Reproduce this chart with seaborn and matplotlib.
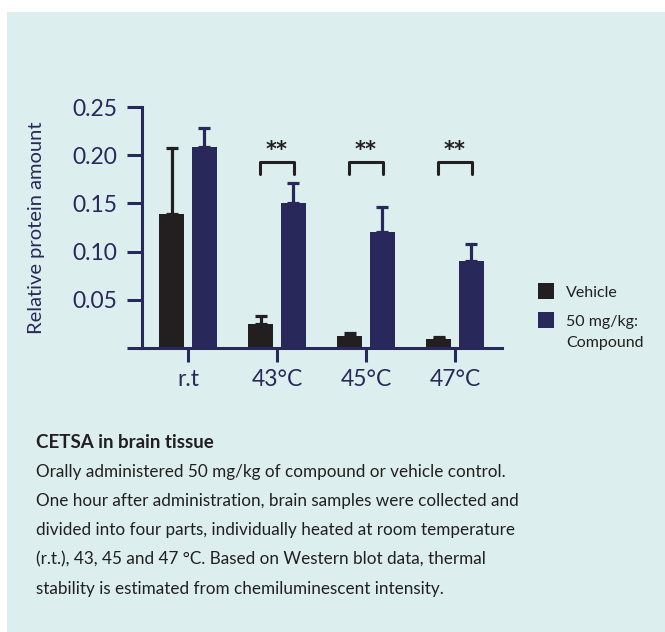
import numpy as np
import pandas as pd
import seaborn as sns
import matplotlib.pyplot as plt
from matplotlib.patches import Rectangle

# values
temps = ['r.t', '43°C', '45°C', '47°C']
groups = ['Vehicle', '50 mg/kg:\nCompound']
vehicle = [0.139, 0.025, 0.012, 0.009]
compound = [0.208, 0.150, 0.120, 0.090]
vehicle_err = [0.068, 0.008, 0.004, 0.0025]
compound_err = [0.020, 0.021, 0.026, 0.018]
sig_temps = ['43°C', '45°C', '47°C']
yticks = [0, 0.05, 0.10, 0.15, 0.20, 0.25]
ytick_labels = ['', '0.05', '0.10', '0.15', '0.20', '0.25']

caption_title = 'CETSA in brain tissue'
caption_lines = [
    'Orally administered 50 mg/kg of compound or vehicle control.',
    'One hour after administration, brain samples were collected and',
    'divided into four parts, individually heated at room temperature',
    '(r.t.), 43, 45 and 47 °C. Based on Western blot data, thermal',
    'stability is estimated from chemiluminescent intensity.',
]

dark = '#231f20'
navy = '#29285a'
panel = '#dcefee'

df = pd.DataFrame({
    'temp': temps * 2,
    'group': [groups[0]] * len(temps) + [groups[1]] * len(temps),
    'value': vehicle + compound,
    'err': vehicle_err + compound_err,
})

sns.set_theme(style='ticks')
plt.rcParams['font.family'] = ['Lato', 'DejaVu Sans']

W, H = 665, 632
fig = plt.figure(figsize=(W / 100, H / 100), dpi=100)
fig.patch.set_facecolor('white')
fig.patches.append(Rectangle((7 / W, 0), 1, 1 - 12 / H, transform=fig.transFigure,
                             facecolor=panel, edgecolor='none', zorder=-5))

ax = fig.add_axes([142 / W, 1 - 348 / H, 360 / W, 241 / H])
ax.set_facecolor('none')
sns.barplot(data=df, x='temp', y='value', hue='group', hue_order=groups,
            palette=[dark, navy], saturation=1, width=0.74, gap=0.24,
            errorbar=None, legend=False, linewidth=0, ax=ax)

# one-sided error bars on top of each bar
for bar, e in zip(ax.patches, df['err']):
    x = bar.get_x() + bar.get_width() / 2
    h = bar.get_height()
    ax.errorbar(x, h, yerr=[[0], [e]], color=bar.get_facecolor(), capsize=4.3,
                elinewidth=2.3, capthick=2.3, zorder=1)

# significance brackets
for t in sig_temps:
    i = temps.index(t)
    ax.plot([i - 0.19, i - 0.19, i + 0.19, i + 0.19], [0.181, 0.1925, 0.1925, 0.181],
            color=dark, lw=2.2, clip_on=False)
    ax.text(i, 0.195, '**', ha='center', va='bottom', fontsize=15,
            fontweight='bold', color=dark, family='DejaVu Sans')

ax.set_xlim(-0.517, 3.528)
ax.set_ylim(0, 0.25)
ax.set_yticks(yticks)
ax.set_yticklabels(ytick_labels)
ax.set_xlabel('')
ax.set_ylabel('')
sns.despine(ax=ax)
for s in ['left', 'bottom']:
    ax.spines[s].set_color(navy)
    ax.spines[s].set_linewidth(2.2)
ax.tick_params(axis='y', length=10.8, width=2.2, color=navy, labelcolor=navy,
               labelsize=16.5, pad=7)
ax.tick_params(axis='x', length=10, width=2.2, color=navy, labelcolor=navy,
               labelsize=16.5, pad=5)

fig.text(37 / W, 1 - 228 / H, 'Relative protein amount', rotation=90,
         ha='center', va='center', fontsize=14.5, color=navy)

# legend
for k, (lab, col, ytop) in enumerate(zip(groups, [dark, navy], [283, 312])):
    fig.patches.append(Rectangle((538 / W, 1 - (ytop + 16) / H), 16 / W, 16 / H,
                                 transform=fig.transFigure, facecolor=col,
                                 edgecolor='none'))
    fig.text(566 / W, 1 - (ytop + 3) / H, lab, ha='left', va='top', fontsize=11.5,
             color=dark, linespacing=1.6)

# caption
fig.text(36 / W, 1 - 442 / H, caption_title, fontsize=13.5, fontweight='bold',
         color=dark, va='center')
for k, line in enumerate(caption_lines):
    fig.text(36 / W, 1 - (472 + 29.2 * k) / H, line, fontsize=12.35, color=dark,
             va='center')

fig.savefig('out.png', dpi=100, facecolor='white')
